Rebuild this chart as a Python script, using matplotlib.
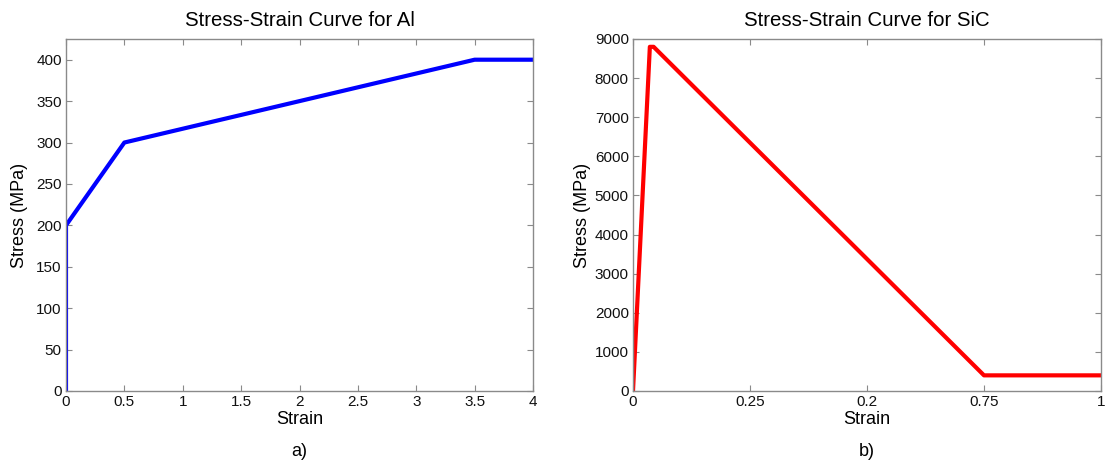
import matplotlib
matplotlib.use("Agg")
import matplotlib.pyplot as plt
from matplotlib.ticker import FuncFormatter

plt.rcParams['font.family'] = ['Liberation Sans', 'DejaVu Sans']

# Data
al_strain = [0, 0, 0.5, 3.5, 4.0]
al_stress = [0, 200, 300, 400, 400]

sic_strain = [0, 0.036, 0.044, 0.75, 1.0]
sic_stress = [0, 8800, 8800, 400, 400]

al_xticks = [0, 0.5, 1, 1.5, 2, 2.5, 3, 3.5, 4]
al_yticks = [0, 50, 100, 150, 200, 250, 300, 350, 400]
sic_xticks = [0, 0.25, 0.5, 0.75, 1.0]
sic_xticklabels = ["0", "0.25", "0.2", "0.75", "1"]
sic_yticks = [0, 1000, 2000, 3000, 4000, 5000, 6000, 7000, 8000, 9000]

W, H = 1105, 466
fig = plt.figure(figsize=(W / 100, H / 100), dpi=100)

def px_axes(l, r, t, b):
    return fig.add_axes([l / W, 1 - b / H, (r - l) / W, (b - t) / H])

ax1 = px_axes(66, 533, 39, 391)
ax2 = px_axes(633, 1101, 39, 391)

spine_col = '#8a8a8a'
for ax in (ax1, ax2):
    for s in ax.spines.values():
        s.set_color(spine_col)
        s.set_linewidth(1.0)
    ax.tick_params(direction='in', top=True, right=True, length=4.5,
                   color=spine_col, labelsize=11, labelcolor='#111111', pad=3)

ax1.plot(al_strain, al_stress, color='#0000ff', linewidth=3.0)
ax1.set_xlim(0, 4)
ax1.set_ylim(0, 425)
ax1.set_xticks(al_xticks)
ax1.set_yticks(al_yticks)
ax1.xaxis.set_major_formatter(FuncFormatter(lambda v, p: f"{v:g}"))
ax1.set_xlabel("Strain", fontsize=13, labelpad=1)
ax1.set_ylabel("Stress (MPa)", fontsize=13, labelpad=6)
ax1.set_title("Stress-Strain Curve for Al", fontsize=14.7, pad=9)

ax2.plot(sic_strain, sic_stress, color='#ff0000', linewidth=3.0)
ax2.set_xlim(0, 1.0)
ax2.set_ylim(0, 9000)
ax2.set_xticks(sic_xticks)
ax2.set_xticklabels(sic_xticklabels)
ax2.set_yticks(sic_yticks)
ax2.set_xlabel("Strain", fontsize=13, labelpad=1)
ax2.set_ylabel("Stress (MPa)", fontsize=13, labelpad=3)
ax2.set_title("Stress-Strain Curve for SiC", fontsize=14.7, pad=9)

fig.text(299 / W, 1 - 452 / H, "a)", fontsize=13, ha='center', va='center')
fig.text(867 / W, 1 - 452 / H, "b)", fontsize=13, ha='center', va='center')

fig.savefig("out.png", dpi=100, facecolor='white')
